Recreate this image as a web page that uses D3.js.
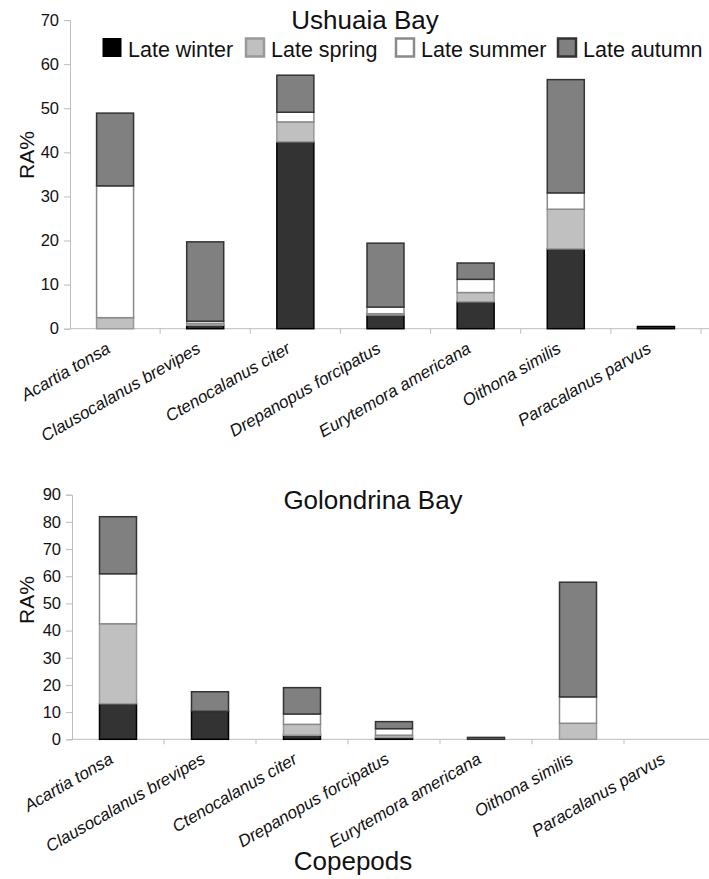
<!DOCTYPE html>
<html>
<head>
<meta charset="utf-8">
<script src="https://cdn.jsdelivr.net/npm/d3@7/dist/d3.min.js"></script>
<style>
  html, body { margin: 0; padding: 0; background: #fff; }
  svg { display: block; font-family: "Liberation Sans", Arial, sans-serif; }
</style>
</head>
<body>
<svg id="chart" width="709" height="879"></svg>
<script>
// Copepod relative abundance (RA%) by season, two bays
const copepods = [
  "Acartia tonsa", "Clausocalanus brevipes", "Ctenocalanus citer",
  "Drepanopus forcipatus", "Eurytemora americana", "Oithona similis",
  "Paracalanus parvus"
];
const seasons = ["Late winter", "Late spring", "Late summer", "Late autumn"];

// Ushuaia Bay
const ushuaiaWinter = [0, 0.8, 42.4, 3.1, 6.1, 18.1, 0.5];
const ushuaiaSpring = [2.5, 0.4, 4.5, 0.3, 2.1, 9.0, 0];
const ushuaiaSummer = [29.9, 0.5, 2.2, 1.5, 3.0, 3.7, 0];
const ushuaiaAutumn = [16.5, 18.0, 8.4, 14.5, 3.7, 25.7, 0];

// Golondrina Bay
const golondrinaWinter = [13.1, 10.3, 1.5, 0.7, 0, 0, 0];
const golondrinaSpring = [29.4, 0, 4.0, 0.8, 0, 5.9, 0];
const golondrinaSummer = [18.4, 0, 3.8, 2.4, 0, 9.7, 0];
const golondrinaAutumn = [21.0, 7.2, 9.7, 2.6, 0.7, 42.2, 0];

const ushuaiaTicks = [0, 10, 20, 30, 40, 50, 60, 70];
const golondrinaTicks = [0, 10, 20, 30, 40, 50, 60, 70, 80, 90];

const seasonFill = ["#333333", "#c0c0c0", "#ffffff", "#808080"];
const seasonStroke = ["#000000", "#999999", "#8a8a8a", "#333333"];

const svg = d3.select("#chart");

function rows(w, s, su, a) {
  return copepods.map((c, i) => ({
    name: c,
    "Late winter": w[i], "Late spring": s[i], "Late summer": su[i], "Late autumn": a[i]
  }));
}

function drawPanel(opts) {
  const g = svg.append("g");
  const x = d3.scaleBand().domain(copepods).range([opts.x0, opts.x1]).paddingInner(0).paddingOuter(0);
  const y = d3.scaleLinear().domain([0, opts.yMax]).range([opts.yBottom, opts.yTop]);
  const barW = opts.barW;

  // y axis
  const yAxis = g.append("g").attr("transform", `translate(${opts.x0},0)`)
    .call(d3.axisLeft(y).tickValues(opts.ticks).tickSize(6).tickPadding(5).tickFormat(d3.format("d")));
  yAxis.select(".domain").attr("stroke", "#bdbdbd").attr("stroke-width", 1);
  yAxis.selectAll(".tick line").attr("stroke", "#bdbdbd");
  yAxis.selectAll(".tick text").attr("font-size", "16.5px").attr("fill", "#111")
    .attr("font-family", "Liberation Sans, Arial, sans-serif");

  // x axis line with tick marks between categories
  const xAxisG = g.append("g").attr("transform", `translate(0,${opts.yBottom})`);
  xAxisG.append("line").attr("x1", opts.x0).attr("x2", opts.x1 + 20).attr("stroke", "#bdbdbd");
  const bounds = copepods.map(c => x(c) + x.bandwidth());
  xAxisG.selectAll("line.sep").data(bounds).join("line").attr("class", "sep")
    .attr("x1", d => d).attr("x2", d => d).attr("y1", 0).attr("y2", 5).attr("stroke", "#bdbdbd");

  // stacked bars
  const stack = d3.stack().keys(seasons)(opts.data);
  stack.forEach((layer, k) => {
    g.append("g").selectAll("rect")
      .data(layer.filter(d => d[1] - d[0] > 0))
      .join("rect")
      .attr("x", d => x(d.data.name) + x.bandwidth() / 2 - barW / 2)
      .attr("width", barW)
      .attr("y", d => y(d[1]))
      .attr("height", d => y(d[0]) - y(d[1]))
      .attr("fill", seasonFill[k])
      .attr("stroke", seasonStroke[k])
      .attr("stroke-width", 1.5);
  });

  // category labels, rotated italic
  g.append("g").selectAll("text").data(copepods).join("text")
    .attr("transform", d => `translate(${x(d) + x.bandwidth() / 2 - 10},${opts.yBottom + 12}) rotate(-30)`)
    .attr("text-anchor", "end")
    .attr("dy", "0.75em")
    .attr("font-size", "17px")
    .attr("font-style", "italic")
    .attr("fill", "#111")
    .text(d => d);

  // title
  g.append("text").attr("x", opts.titleX).attr("y", opts.titleY)
    .attr("text-anchor", "middle").attr("font-size", "26px").attr("fill", "#111").text(opts.title);

  // y label
  g.append("text").attr("transform", `translate(${opts.yLabelX},${opts.yLabelY}) rotate(-90)`)
    .attr("text-anchor", "middle").attr("font-size", "21px").attr("fill", "#111").text("RA%");

  return { x, y };
}

drawPanel({
  data: rows(ushuaiaWinter, ushuaiaSpring, ushuaiaSummer, ushuaiaAutumn),
  x0: 70, x1: 701, yTop: 20.1, yBottom: 328.7, yMax: 70, ticks: ushuaiaTicks, barW: 37,
  title: "Ushuaia Bay", titleX: 365, titleY: 29, yLabelX: 34, yLabelY: 155
});

drawPanel({
  data: rows(golondrinaWinter, golondrinaSpring, golondrinaSummer, golondrinaAutumn),
  x0: 72, x1: 716, yTop: 494.7, yBottom: 739.3, yMax: 90, ticks: golondrinaTicks, barW: 37,
  title: "Golondrina Bay", titleX: 373, titleY: 509, yLabelX: 34, yLabelY: 600
});

// legend
const legendX = [103, 246, 396, 558];
const legend = svg.append("g").attr("font-size", "21.5px");
seasons.forEach((s, k) => {
  legend.append("rect").attr("x", legendX[k]).attr("y", 38.5).attr("width", 18).attr("height", 18)
    .attr("fill", k === 0 ? "#000" : seasonFill[k])
    .attr("stroke", k === 0 ? "#000" : seasonStroke[k])
    .attr("stroke-width", k === 0 ? 1 : 2.5);
  legend.append("text").attr("x", legendX[k] + 25).attr("y", 56.5).attr("fill", "#111").text(s);
});

// x axis title
svg.append("text").attr("x", 353).attr("y", 870).attr("text-anchor", "middle")
  .attr("font-size", "26px").attr("fill", "#111").text("Copepods");
</script>
</body>
</html>
